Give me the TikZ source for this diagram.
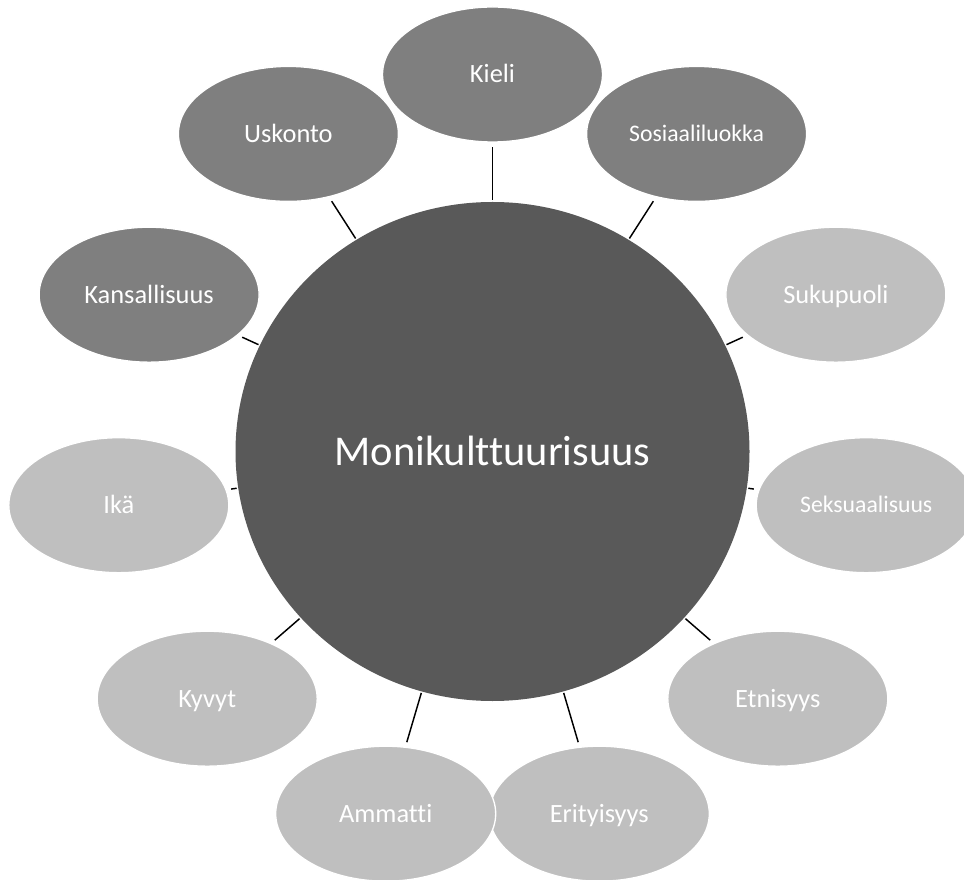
\documentclass[tikz,border=0pt]{standalone}
\usepackage{fontspec}
\setmainfont[Ligatures={NoCommon}]{Carlito}
\usetikzlibrary{shapes.geometric}
\definecolor{hubgray}{HTML}{595959}
\definecolor{satdark}{HTML}{7F7F7F}
\definecolor{satlight}{HTML}{BFBFBF}
\begin{document}
\begin{tikzpicture}[x=0.75pt,y=-0.75pt,
  sat/.style={ellipse, minimum width=165pt, minimum height=101.25pt, inner sep=0pt, outer sep=0pt,
    draw=white, line width=1pt, text=white, font=\fontsize{19.8}{23}\selectfont,
    text height=12.7pt, text depth=0pt},
  satsmall/.style={sat, font=\fontsize{17.8}{21}\selectfont, text height=11.5pt},
  dark/.style={fill=satdark},
  light/.style={fill=satlight},
  hub/.style={ellipse, minimum width=385.5pt, minimum height=374.25pt, inner sep=0pt, outer sep=0pt,
    fill=hubgray, text=white, font=\fontsize{31.8}{36}\selectfont, text height=20.5pt, text depth=0pt},
  conn/.style={draw=black, line width=1.1pt, shorten <=4pt, shorten >=1.2pt}]
\useasboundingbox (0,0) rectangle (964,880);
\clip (0,0) rectangle (964,880);
\node[hub] (hub) at (492.5,451.5) {Monikulttuurisuus};
\node[sat,dark] (kieli) at (492.5,74.5) {Kieli};
\node[satsmall,dark] (sosiaali) at (696.6,133.9) {Sosiaaliluokka};
\node[sat,light] (sukupuoli) at (835.9,294.7) {Sukupuoli};
\node[satsmall,light] (seksuaali) at (866.2,505.2) {Seksuaalisuus};
\node[sat,light] (etnisyys) at (777.8,698.7) {Etnisyys};
\node[sat,light] (erityisyys) at (599.3,813.7) {Erityisyys};
\node[sat,light] (ammatti) at (385.7,813.7) {Ammatti};
\node[sat,light] (kyvyt) at (207.2,698.7) {Kyvyt};
\node[sat,light] (ika) at (118.8,505.2) {Ikä};
\node[sat,dark] (kansallisuus) at (149.1,294.7) {Kansallisuus};
\node[sat,dark] (uskonto) at (288.4,133.9) {Uskonto};
\foreach \s in {kieli,sosiaali,sukupuoli,seksuaali,etnisyys,erityisyys,ammatti,kyvyt,ika,kansallisuus,uskonto}
  \draw[conn] (\s) -- (hub);
\end{tikzpicture}
\end{document}
